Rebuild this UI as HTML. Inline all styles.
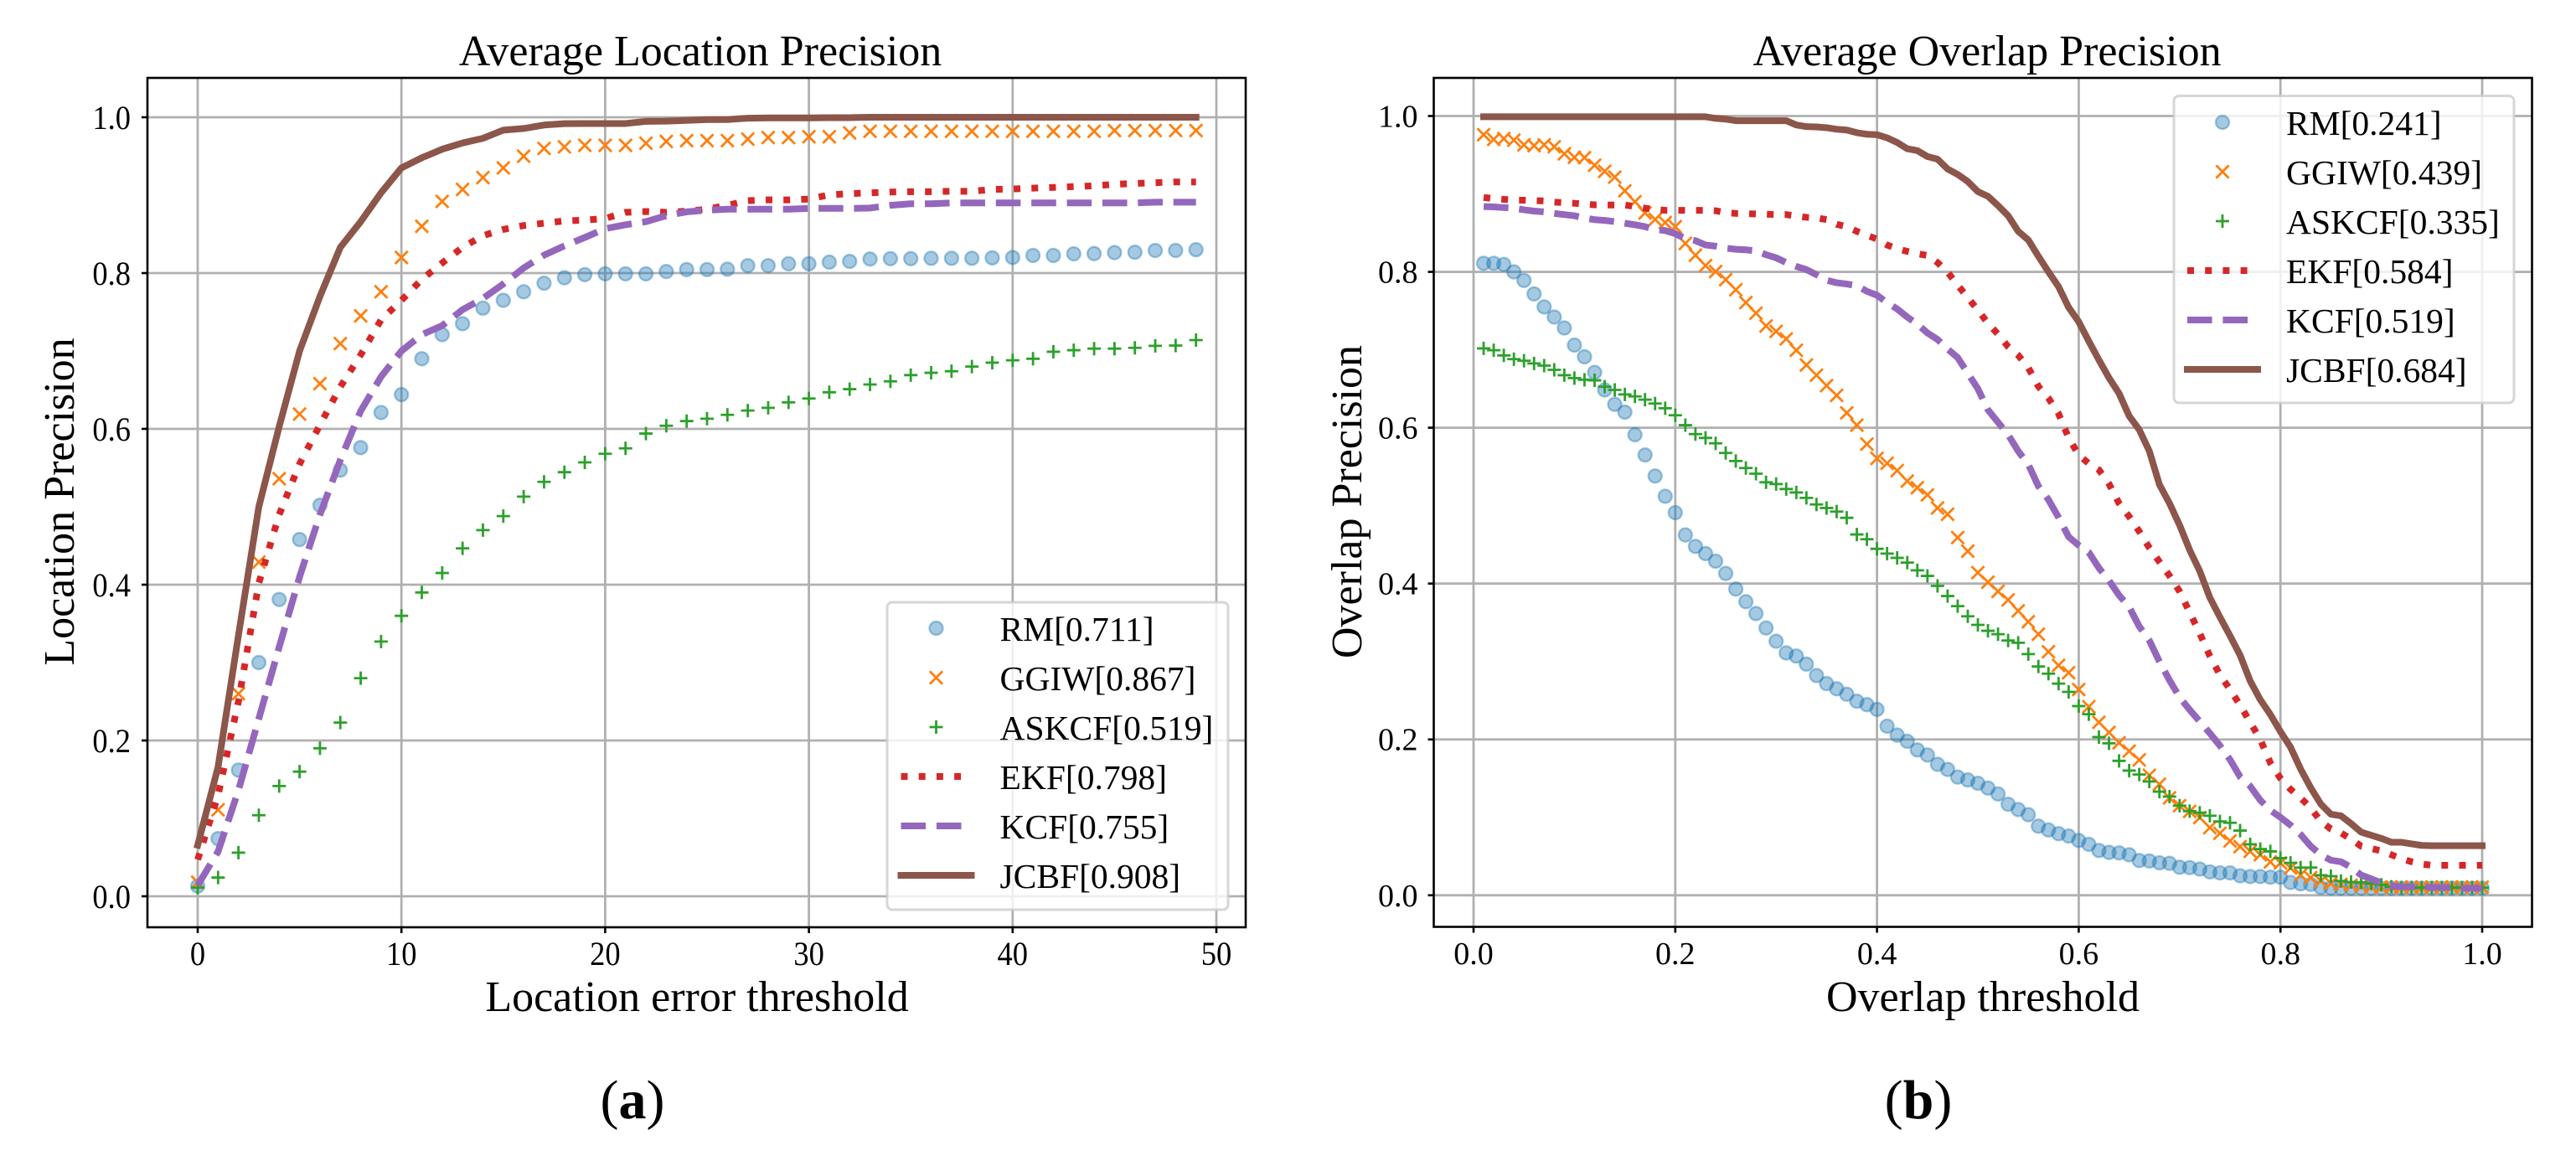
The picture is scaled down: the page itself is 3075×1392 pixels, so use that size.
<!DOCTYPE html>
<html lang="en">
<head>
<meta charset="utf-8">
<title>Average Location and Overlap Precision</title>
<style>
html,body{margin:0;padding:0;background:#fff;}
#figure{display:block;width:3075px;height:1392px;}
text{font-family:"Liberation Serif","Times New Roman",serif;fill:#000;}
</style>
</head>
<body>
<svg id="figure" xmlns="http://www.w3.org/2000/svg" width="3075" height="1392" viewBox="0 0 3075 1392">
  <rect x="0" y="0" width="3075" height="1392" fill="#fff"/>
  <g id="panel-a"></g>
  <g id="panel-b"></g>
  <text x="836" y="78" font-size="52" text-anchor="middle">Average Location Precision</text>
  <text x="2372" y="78" font-size="52" text-anchor="middle">Average Overlap Precision</text>
  <text x="832" y="1207" font-size="52" text-anchor="middle">Location error threshold</text>
  <text x="2367" y="1207" font-size="52" text-anchor="middle">Overlap threshold</text>
  <text transform="translate(88,599) rotate(-90)" font-size="52" text-anchor="middle">Location Precision</text>
  <text transform="translate(1625,599) rotate(-90)" font-size="52" text-anchor="middle">Overlap Precision</text>
  <text x="755" y="1335" font-size="66" text-anchor="middle">(<tspan font-weight="bold">a</tspan>)</text>
  <text x="2290" y="1335" font-size="66" text-anchor="middle">(<tspan font-weight="bold">b</tspan>)</text>
</svg>
<script>
// ---- Panel (a): location error thresholds and series ----
const aThresholds = [0,1,2,3,4,5,6,7,8,9,10,11,12,13,14,15,16,17,18,19,20,21,22,23,24,25,26,27,28,29,30,31,32,33,34,35,36,37,38,39,40,41,42,43,44,45,46,47,48,49];
const aXTicks = [0,10,20,30,40,50];
const aYTicks = [0,0.2,0.4,0.6,0.8,1];
const aXTickLabels = ["0","10","20","30","40","50"];
const aYTickLabels = ["0.0","0.2","0.4","0.6","0.8","1.0"];
const aLegendLabels = ["RM[0.711]","GGIW[0.867]","ASKCF[0.519]","EKF[0.798]","KCF[0.755]","JCBF[0.908]"];
const aRM = [.013,.074,.162,.30,.381,.458,.502,.547,.576,.621,
.644,.690,.721,.735,.755,.765,.776,.787,.794,.798,
.799,.799,.799,.802,.8045,.8045,.805,.8095,.8095,.812,
.812,.814,.815,.818,.8185,.8185,.819,.819,.819,.8195,
.82,.8226,.8226,.8247,.825,.8263,.8268,.829,.829,.83];
const aGGIW = [.018,.111,.26,.429,.536,.619,.658,.7095,.745,.776,
.82,.86,.892,.9074,.9226,.935,.95,.96,.962,.964,
.964,.964,.9667,.969,.97,.97,.97,.972,.974,.974,
.975,.975,.98,.982,.982,.982,.982,.982,.982,.982,
.982,.982,.982,.982,.982,.983,.983,.983,.983,.983];
const aASKCF = [.011,.024,.056,.104,.1415,.16,.19,.223,.28,.327,
.36,.39,.415,.4466,.47,.488,.513,.532,.5444,.557,
.568,.575,.594,.604,.61,.613,.618,.6235,.627,.634,
.639,.647,.651,.657,.661,.669,.672,.674,.68,.685,
.688,.69,.699,.701,.703,.703,.704,.7066,.707,.714];
const aEKF = [.047,.13,.25,.402,.49,.555,.605,.654,.695,.74,
.765,.792,.813,.833,.848,.856,.861,.864,.867,.868,
.87,.878,.879,.878,.8794,.882,.887,.893,.894,.894,
.895,.9004,.902,.903,.904,.9045,.9045,.905,.905,.9074,
.908,.909,.91,.911,.912,.914,.915,.916,.917,.917];
const aKCF = [.014,.0575,.136,.228,.32,.41,.49,.56,.623,.667,
.70,.721,.7325,.753,.7675,.786,.8066,.823,.835,.8457,
.857,.862,.866,.8737,.8786,.8807,.882,.882,.882,.882,
.883,.883,.883,.8835,.887,.889,.889,.89,.89,.89,
.89,.89,.89,.89,.89,.89,.89,.891,.891,.891];
const aJCBF = [.0656,.166,.335,.50,.603,.70,.77,.833,.866,.903,
.935,.948,.959,.967,.973,.9835,.9856,.99,.9918,.992,
.992,.992,.9947,.995,.996,.997,.997,.9988,.9992,.9992,
.9992,.9995,.9995,1,1,1,1,1,1,1,
1,1,1,1,1,1,1,1,1,1];

// ---- Panel (b): overlap thresholds and series ----
const bThresholds = [.01,.02,.03,.04,.05,.06,.07,.08,.09,.10,
.11,.12,.13,.14,.15,.16,.17,.18,.19,.20,
.21,.22,.23,.24,.25,.26,.27,.28,.29,.30,
.31,.32,.33,.34,.35,.36,.37,.38,.39,.40,
.41,.42,.43,.44,.45,.46,.47,.48,.49,.50,
.51,.52,.53,.54,.55,.56,.57,.58,.59,.60,
.61,.62,.63,.64,.65,.66,.67,.68,.69,.70,
.71,.72,.73,.74,.75,.76,.77,.78,.79,.80,
.81,.82,.83,.84,.85,.86,.87,.88,.89,.90,
.91,.92,.93,.94,.95,.96,.97,.98,.99,1];
const bXTicks = [0,0.2,0.4,0.6,0.8,1];
const bYTicks = [0,0.2,0.4,0.6,0.8,1];
const bXTickLabels = ["0.0","0.2","0.4","0.6","0.8","1.0"];
const bYTickLabels = ["0.0","0.2","0.4","0.6","0.8","1.0"];
const bLegendLabels = ["RM[0.241]","GGIW[0.439]","ASKCF[0.335]","EKF[0.584]","KCF[0.519]","JCBF[0.684]"];
const bRM = [.811,.811,.8095,.80,.789,.7717,.755,.742,.728,.706,
.691,.671,.6485,.63,.62,.591,.565,.538,.512,.491,
.4624,.4477,.4385,.4287,.413,.393,.3768,.3615,.343,.326,
.311,.307,.2966,.282,.2716,.265,.258,.249,.2446,.2385,
.217,.2055,.1976,.1865,.18,.168,.1615,.1517,.148,.1437,
.1376,.13,.1168,.11,.1034,.0887,.0838,.079,.076,.0703,
.0654,.0575,.055,.0544,.052,.0446,.044,.0416,.041,.036,
.0355,.0336,.03,.0287,.0287,.025,.024,.024,.0232,.0232,
.0165,.0147,.014,.01,.0092,.009,.009,.009,.009,.009,
.009,.009,.009,.009,.009,.009,.009,.009,.009,.009];
const bGGIW = [.976,.97,.971,.969,.963,.962,.963,.9606,.9515,.947,
.9466,.9368,.929,.9216,.904,.89,.8756,.8673,.8632,.858,
.8365,.8214,.808,.8004,.79,.777,.7606,.747,.7306,.7236,
.714,.6994,.6805,.6674,.654,.6415,.619,.6033,.579,.5606,
.5544,.545,.5315,.523,.5138,.497,.489,.459,.4416,.414,
.4018,.39,.379,.365,.351,.335,.3125,.295,.2856,.264,
.242,.222,.209,.1957,.185,.1737,.154,.1425,.125,.115,
.1076,.0997,.0868,.0795,.0697,.0624,.0563,.052,.0428,.0416,
.0349,.0263,.0226,.0183,.0153,.014,.0128,.0116,.011,.0104,
.0104,.0104,.0104,.0104,.0104,.0104,.0104,.0104,.0104,.0104];
const bASKCF = [.7018,.6994,.6928,.688,.686,.6825,.6797,.6743,.6674,.6637,
.6616,.6608,.6526,.6485,.6427,.6402,.636,.631,.625,.616,
.6033,.5918,.5869,.58,.5676,.5573,.5483,.541,.53,.5277,
.5213,.5169,.51,.5015,.497,.4924,.4844,.463,.4569,.4446,
.4385,.433,.4269,.417,.4098,.397,.384,.371,.358,.347,
.3394,.335,.327,.324,.3095,.2936,.2844,.2716,.261,.2428,
.2324,.203,.195,.1725,.16,.155,.146,.133,.1266,.115,
.108,.106,.102,.0948,.093,.083,.0654,.0593,.0563,.0477,
.0416,.0355,.0355,.0257,.0245,.0183,.017,.0165,.0153,.0135,
.011,.0098,.0098,.0098,.0098,.0098,.0098,.0098,.0098,.0098];
const bEKF = [.8955,.894,.893,.892,.892,.8916,.891,.8895,.8887,.888,
.887,.886,.8858,.8858,.8858,.8838,.8817,.88,.879,.879,
.8789,.8789,.8789,.8784,.876,.875,.8747,.8743,.874,.8735,
.8735,.8715,.87,.8694,.867,.861,.858,.852,.847,.842,
.8345,.8296,.8263,.8234,.821,.812,.7996,.783,.767,.751,
.734,.72,.704,.693,.677,.653,.638,.618,.587,.565,
.554,.546,.528,.503,.486,.467,.446,.428,.41,.39,
.363,.336,.307,.283,.264,.244,.222,.20,.17,.15,
.136,.125,.112,.095,.085,.08,.072,.063,.06,.057,
.052,.047,.043,.04,.0385,.0385,.0385,.0385,.0385,.0385];
const bKCF = [.8838,.8834,.8825,.8817,.8797,.878,.877,.875,.8735,.872,
.869,.867,.866,.8645,.8624,.8604,.858,.8546,.853,.849,
.8427,.84,.8345,.833,.8304,.829,.8283,.827,.822,.818,
.812,.807,.803,.7963,.7893,.786,.7844,.7823,.775,.77,
.7606,.7524,.742,.733,.7216,.7133,.701,.69,.67,.65,
.623,.607,.591,.57,.553,.525,.5076,.485,.46,.449,
.44,.42,.404,.385,.37,.345,.327,.30,.276,.254,
.238,.223,.208,.192,.174,.152,.14,.122,.109,.10,
.09,.078,.063,.052,.045,.043,.036,.026,.021,.016,
.012,.011,.011,.011,.01,.01,.01,.009,.009,.009];
const bJCBF = [.999,.999,.999,.999,.999,.999,.999,.999,.999,.999,
.999,.999,.999,.999,.999,.999,.999,.999,.999,.999,
.999,.999,.999,.997,.996,.994,.994,.994,.994,.994,
.994,.9885,.9864,.986,.985,.983,.982,.9786,.9766,.976,
.972,.966,.958,.9556,.948,.9446,.932,.925,.916,.903,
.897,.885,.872,.852,.841,.82,.80,.781,.7544,.736,
.711,.687,.664,.644,.615,.5975,.57,.527,.503,.475,
.443,.416,.382,.357,.333,.308,.275,.251,.232,.21,
.19,.162,.138,.117,.104,.102,.092,.081,.077,.073,
.068,.068,.066,.064,.0636,.0636,.0636,.0636,.0636,.0636];

const SVGNS = "http://www.w3.org/2000/svg";
const COLORS = {RM:"#1f77b4",GGIW:"#ff7f0e",ASKCF:"#2ca02c",EKF:"#d62728",KCF:"#9467bd",JCBF:"#8c564b"};
const LW = 8;

function make(tag, parent, attrs){
  const node = document.createElementNS(SVGNS, tag);
  for (const k in attrs) node.setAttribute(k, attrs[k]);
  parent.appendChild(node);
  return node;
}
function drawCircle(parent, cx, cy){
  const c = make("circle", parent, {cx:cx, cy:cy, r:8, fill:COLORS.RM, "fill-opacity":0.4, stroke:COLORS.RM, "stroke-opacity":0.4, "stroke-width":2.4});
  
  
}
function drawCross(parent, cx, cy){
  const s = 7.6;
  const p = make("path", parent, {d:"M"+(cx-s)+" "+(cy-s)+"L"+(cx+s)+" "+(cy+s)+"M"+(cx-s)+" "+(cy+s)+"L"+(cx+s)+" "+(cy-s), fill:"none", stroke:COLORS.GGIW, "stroke-width":2.8});
  
  
}
function drawPlus(parent, cx, cy){
  const s = 8;
  const p = make("path", parent, {d:"M"+(cx-s)+" "+cy+"L"+(cx+s)+" "+cy+"M"+cx+" "+(cy-s)+"L"+cx+" "+(cy+s), fill:"none", stroke:COLORS.ASKCF, "stroke-width":2.8});
  
  
}
function lineStyle(key){
  if (key === "EKF") return {stroke:COLORS.EKF, "stroke-dasharray":"8 13.2", "stroke-linecap":"butt"};
  if (key === "KCF") return {stroke:COLORS.KCF, "stroke-dasharray":"29.6 12.8", "stroke-linecap":"butt"};
  return {stroke:COLORS.JCBF, "stroke-linecap":"square"};
}
function drawLine(parent, key, pts){
  const attrs = Object.assign({points:pts, fill:"none", "stroke-width":LW, "stroke-linejoin":"round"}, lineStyle(key));
  return make("polyline", parent, attrs);
}

function drawPanel(cfg){
  const root = document.getElementById(cfg.id);
  const X = v => cfg.x0 + cfg.xs * v;
  const Y = v => cfg.y0 - cfg.ys * v;
  const box = cfg.box;

  // grid
  const grid = make("g", root, {stroke:"#b0b0b0", "stroke-width":2.8});
  
  
  cfg.xTicks.forEach(function(t){
    const l = make("line", grid, {x1:X(t), x2:X(t), y1:box.top, y2:box.bottom});
    
    
  });
  cfg.yTicks.forEach(function(t){
    const l = make("line", grid, {x1:box.left, x2:box.right, y1:Y(t), y2:Y(t)});
    
    
  });

  // marker series
  const rmGroup = make("g", root, {});
  
  
  cfg.rm.forEach(function(v,i){ drawCircle(rmGroup, X(cfg.cats[i]), Y(v)); });
  const ggiwGroup = make("g", root, {});
  
  
  cfg.ggiw.forEach(function(v,i){ drawCross(ggiwGroup, X(cfg.cats[i]), Y(v)); });
  const askGroup = make("g", root, {});
  
  
  cfg.askcf.forEach(function(v,i){ drawPlus(askGroup, X(cfg.cats[i]), Y(v)); });

  // line series
  const pts = arr => arr.map(function(v,i){ return X(cfg.cats[i]).toFixed(2)+","+Y(v).toFixed(2); }).join(" ");
  const ekfLine = drawLine(root, "EKF", pts(cfg.ekf));
  
  
  const kcfLine = drawLine(root, "KCF", pts(cfg.kcf));
  
  
  const jcbfLine = drawLine(root, "JCBF", pts(cfg.jcbf));
  
  

  // axes frame
  const frame = make("rect", root, {x:box.left, y:box.top, width:box.right-box.left, height:box.bottom-box.top, fill:"none", stroke:"#000", "stroke-width":2.6});
  
  

  // ticks and labels
  const stretch = "scale(1,"+cfg.tickStretch+")";
  cfg.xTicks.forEach(function(t,i){
    const m = make("line", root, {x1:X(t), x2:X(t), y1:box.bottom, y2:box.bottom+7, stroke:"#000", "stroke-width":2.6});
    
    
    const txt = make("text", root, {transform:"translate("+X(t)+","+cfg.xLabelY+") "+stretch, "font-size":cfg.tickSize, "text-anchor":"middle"});
    txt.textContent = cfg.xLabels[i];
    
    
  });
  cfg.yTicks.forEach(function(t,i){
    const m = make("line", root, {x1:box.left-7, x2:box.left, y1:Y(t), y2:Y(t), stroke:"#000", "stroke-width":2.6});
    
    
    const txt = make("text", root, {transform:"translate("+cfg.yLabelX+","+(Y(t)+cfg.tickDrop)+") "+stretch, "font-size":cfg.tickSize, "text-anchor":"end"});
    txt.textContent = cfg.yLabels[i];
    
    
  });

  // legend
  const L = cfg.legend;
  const lg = make("g", root, {});
  
  
  const lb = make("rect", lg, {x:L.left, y:L.top, width:L.right-L.left, height:L.bottom-L.top, rx:6, ry:6, fill:"#fff", "fill-opacity":0.8, stroke:"#cccccc", "stroke-opacity":0.8, "stroke-width":3});
  
  
  const keys = ["RM","GGIW","ASKCF","EKF","KCF","JCBF"];
  keys.forEach(function(k,i){
    const y = L.first + L.step * i;
    if (k === "RM") drawCircle(lg, L.mx, y);
    if (k === "GGIW") drawCross(lg, L.mx, y);
    if (k === "ASKCF") drawPlus(lg, L.mx, y);
    if (k === "EKF" || k === "KCF" || k === "JCBF") {
      const sample = drawLine(lg, k, (L.mx-42)+","+y+" "+(L.mx+42)+","+y);
      
      
    }
    const t = make("text", lg, {x:L.tx, y:y+15, "font-size":41.5});
    t.textContent = cfg.legendLabels[i];
    
    
  });
}

drawPanel({
  id:"panel-a", x0:236, xs:24.32, y0:1070, ys:930,
  box:{left:176, right:1487, top:93, bottom:1107},
  cats:aThresholds, rm:aRM, ggiw:aGGIW, askcf:aASKCF, ekf:aEKF, kcf:aKCF, jcbf:aJCBF,
  xTicks:aXTicks, yTicks:aYTicks, xLabels:aXTickLabels, yLabels:aYTickLabels,
  tickSize:36.5, tickStretch:1.1, tickDrop:14, xLabelY:1152, yLabelX:156,
  legendLabels:aLegendLabels,
  legend:{left:1059, right:1466, top:719, bottom:1086, first:750, step:59, mx:1117.5, tx:1193.5}
});
drawPanel({
  id:"panel-b", x0:1759, xs:1204, y0:1068.8, ys:930.3,
  box:{left:1711.5, right:3022.5, top:93, bottom:1106.5},
  cats:bThresholds, rm:bRM, ggiw:bGGIW, askcf:bASKCF, ekf:bEKF, kcf:bKCF, jcbf:bJCBF,
  xTicks:bXTicks, yTicks:bYTicks, xLabels:bXTickLabels, yLabels:bYTickLabels,
  tickSize:38, tickStretch:1, tickDrop:13, xLabelY:1151, yLabelX:1692.5,
  legendLabels:bLegendLabels,
  legend:{left:2595, right:3001, top:114.5, bottom:481, first:146, step:59, mx:2653, tx:2729}
});
</script>
</body>
</html>
